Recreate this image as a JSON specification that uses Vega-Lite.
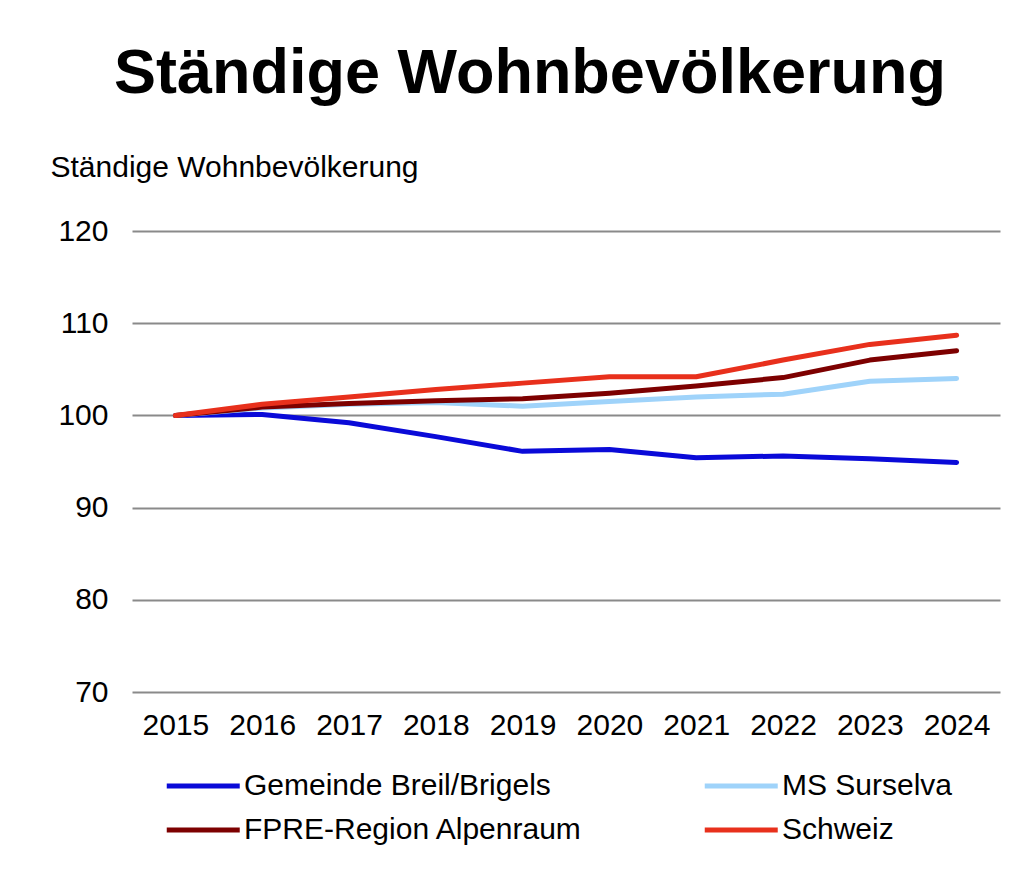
{
  "$schema": "https://vega.github.io/schema/vega-lite/v6.json",
  "autosize": {"type": "none"},
  "width": 868,
  "height": 461,
  "padding": {"left": 132, "top": 231, "right": 36, "bottom": 202},
  "background": "white",
  "title": {
    "text": "Ständige Wohnbevölkerung",
    "font": "Liberation Sans",
    "fontWeight": "bold",
    "fontSize": 63,
    "color": "#000000",
    "anchor": "middle",
    "frame": "group",
    "dx": -36,
    "baseline": "alphabetic",
    "offset": -4
  },
  "data": {
    "values": [
      {"year": "2015", "series": "Gemeinde Breil/Brigels", "value": 100},
      {"year": "2016", "series": "Gemeinde Breil/Brigels", "value": 100.1},
      {"year": "2017", "series": "Gemeinde Breil/Brigels", "value": 99.2},
      {"year": "2018", "series": "Gemeinde Breil/Brigels", "value": 97.7},
      {"year": "2019", "series": "Gemeinde Breil/Brigels", "value": 96.1},
      {"year": "2020", "series": "Gemeinde Breil/Brigels", "value": 96.3},
      {"year": "2021", "series": "Gemeinde Breil/Brigels", "value": 95.4},
      {"year": "2022", "series": "Gemeinde Breil/Brigels", "value": 95.6},
      {"year": "2023", "series": "Gemeinde Breil/Brigels", "value": 95.3},
      {"year": "2024", "series": "Gemeinde Breil/Brigels", "value": 94.9},
      {"year": "2015", "series": "MS Surselva", "value": 100},
      {"year": "2016", "series": "MS Surselva", "value": 100.8},
      {"year": "2017", "series": "MS Surselva", "value": 101.2},
      {"year": "2018", "series": "MS Surselva", "value": 101.4},
      {"year": "2019", "series": "MS Surselva", "value": 101.0},
      {"year": "2020", "series": "MS Surselva", "value": 101.5},
      {"year": "2021", "series": "MS Surselva", "value": 102.0},
      {"year": "2022", "series": "MS Surselva", "value": 102.3},
      {"year": "2023", "series": "MS Surselva", "value": 103.7},
      {"year": "2024", "series": "MS Surselva", "value": 104.0},
      {"year": "2015", "series": "FPRE-Region Alpenraum", "value": 100},
      {"year": "2016", "series": "FPRE-Region Alpenraum", "value": 100.9},
      {"year": "2017", "series": "FPRE-Region Alpenraum", "value": 101.3},
      {"year": "2018", "series": "FPRE-Region Alpenraum", "value": 101.6},
      {"year": "2019", "series": "FPRE-Region Alpenraum", "value": 101.8},
      {"year": "2020", "series": "FPRE-Region Alpenraum", "value": 102.4},
      {"year": "2021", "series": "FPRE-Region Alpenraum", "value": 103.2},
      {"year": "2022", "series": "FPRE-Region Alpenraum", "value": 104.1},
      {"year": "2023", "series": "FPRE-Region Alpenraum", "value": 106.0},
      {"year": "2024", "series": "FPRE-Region Alpenraum", "value": 107.0},
      {"year": "2015", "series": "Schweiz", "value": 100},
      {"year": "2016", "series": "Schweiz", "value": 101.2},
      {"year": "2017", "series": "Schweiz", "value": 102.0},
      {"year": "2018", "series": "Schweiz", "value": 102.8},
      {"year": "2019", "series": "Schweiz", "value": 103.5},
      {"year": "2020", "series": "Schweiz", "value": 104.2},
      {"year": "2021", "series": "Schweiz", "value": 104.2},
      {"year": "2022", "series": "Schweiz", "value": 106.0},
      {"year": "2023", "series": "Schweiz", "value": 107.7},
      {"year": "2024", "series": "Schweiz", "value": 108.7}
    ]
  },
  "mark": {"type": "line", "strokeWidth": 5, "strokeCap": "round", "strokeJoin": "round"},
  "encoding": {
    "x": {
      "field": "year",
      "type": "ordinal",
      "scale": {"type": "point", "padding": 0.5},
      "axis": {
        "title": null,
        "labelAngle": 0,
        "labelFont": "Liberation Sans",
        "labelFontSize": 30,
        "labelColor": "#000000",
        "labelPadding": 18,
        "ticks": false,
        "domain": false,
        "grid": false
      }
    },
    "y": {
      "field": "value",
      "type": "quantitative",
      "scale": {"domain": [70, 120], "nice": false, "zero": false},
      "axis": {
        "values": [70, 80, 90, 100, 110, 120],
        "title": "Ständige Wohnbevölkerung",
        "titleAngle": 0,
        "titleAlign": "left",
        "titleBaseline": "alphabetic",
        "titleX": -82,
        "titleY": -55,
        "titleFont": "Liberation Sans",
        "titleFontSize": 30,
        "titleFontWeight": "normal",
        "titleColor": "#000000",
        "labelFont": "Liberation Sans",
        "labelFontSize": 30,
        "labelColor": "#000000",
        "labelPadding": 24,
        "ticks": false,
        "domain": false,
        "grid": true,
        "gridColor": "#8a8a8a",
        "gridWidth": 2
      }
    },
    "color": {
      "field": "series",
      "type": "nominal",
      "sort": null,
      "scale": {
        "domain": ["Gemeinde Breil/Brigels", "MS Surselva", "FPRE-Region Alpenraum", "Schweiz"],
        "range": ["#0a0ad8", "#9fd3fa", "#7d0000", "#e8301c"]
      },
      "legend": {
        "title": null,
        "orient": "none",
        "legendX": 32,
        "legendY": 534,
        "direction": "horizontal",
        "columns": 2,
        "columnPadding": 111,
        "rowPadding": 8,
        "symbolType": "M-1,0H3",
        "symbolSize": 1332,
        "symbolStrokeWidth": 5,
        "labelFont": "Liberation Sans",
        "labelFontSize": 30,
        "labelColor": "#000000",
        "labelOffset": 38,
        "labelLimit": 600
      }
    }
  },
  "config": {"view": {"stroke": null}}
}
